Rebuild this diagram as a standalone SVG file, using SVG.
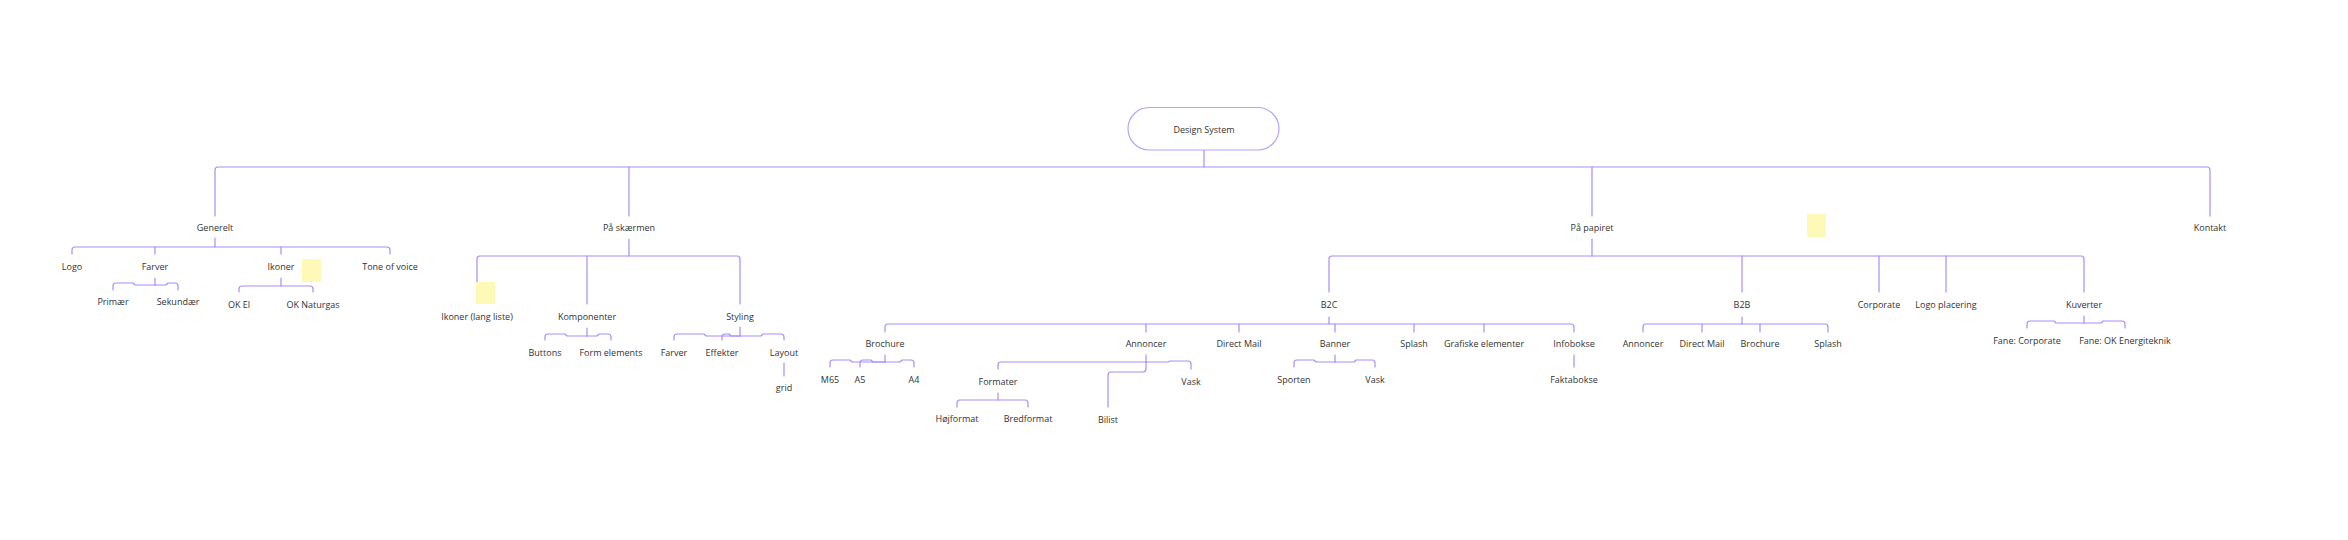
<svg xmlns="http://www.w3.org/2000/svg" width="2348" height="540" viewBox="0 0 2348 540">
<style>
.t{font-family:"Open Sans","Noto Sans","Liberation Sans",sans-serif;font-size:9px;fill:#333;text-anchor:middle}
.c path{fill:none;stroke:#a98df6;stroke-width:1.2;stroke-linecap:round;stroke-linejoin:round}
.pill{fill:#fff;stroke:#b8a2f8;stroke-width:1.2}
.sticky{fill:#fff9b8}
</style>
<rect width="2348" height="540" fill="#fff"/>
<g class="c" id="connectors">
<path d="M1204,150 V167"/>
<path d="M215,216 V170 Q215,167 218,167 H2207 Q2210,167 2210,170 V216"/>
<path d="M629,167 V216"/>
<path d="M1592,167 V216"/>
<path d="M215,238 V247"/>
<path d="M72,254 V250 Q72,247 75,247 H387 Q390,247 390,250 V254"/>
<path d="M155,247 V254"/>
<path d="M281,247 V254"/>
<path d="M155,278 V285"/>
<path d="M155,285 H135 L133,283 H116 Q113,283 113,286 V290"/>
<path d="M155,285 H166 L168,283 H175 Q178,283 178,286 V290"/>
<path d="M281,278 V286"/>
<path d="M239,292 V289 Q239,286 242,286 H310 Q313,286 313,289 V292"/>
<path d="M629,239 V256"/>
<path d="M477,282 V259 Q477,256 480,256 H737 Q740,256 740,259 V304"/>
<path d="M587,256 V304"/>
<path d="M587,328 V336"/>
<path d="M587,336 H567 L565,334 H548 Q545,334 545,337 V340"/>
<path d="M587,336 H597 L599,334 H608 Q611,334 611,337 V340"/>
<path d="M740,327 V336"/>
<path d="M740,336 H706 L704,334 H677 Q674,334 674,337 V340"/>
<path d="M740,336 H731 L729,334 H725 Q722,334 722,337 V340"/>
<path d="M740,336 H761 L763,334 H781 Q784,334 784,337 V340"/>
<path d="M784,363 V376"/>
<path d="M1592,239 V256"/>
<path d="M1329,292 V259 Q1329,256 1332,256 H2081 Q2084,256 2084,259 V292"/>
<path d="M1742,256 V292"/>
<path d="M1879,256 V292"/>
<path d="M1946,256 V292"/>
<path d="M1329,317 V324"/>
<path d="M885,332 V327 Q885,324 888,324 H1571 Q1574,324 1574,327 V332"/>
<path d="M1146,324 V332"/>
<path d="M1239,324 V332"/>
<path d="M1335,324 V332"/>
<path d="M1414,324 V332"/>
<path d="M1484,324 V332"/>
<path d="M885,355 V362"/>
<path d="M885,362 H852 L850,360 H833 Q830,360 830,363 V367"/>
<path d="M885,362 H873 L871,360 H863 Q860,360 860,363 V367"/>
<path d="M885,362 H900 L902,360 H911 Q914,360 914,363 V367"/>
<path d="M1146,355 V362"/>
<path d="M998,369 V365 Q998,362 1001,362 H1146"/>
<path d="M1146,362 H1168 L1170,361 H1188 Q1191,361 1191,364 V369"/>
<path d="M1146,362 V369 Q1146,372 1143,372 H1111 Q1108,372 1108,375 V407"/>
<path d="M998,393 V400"/>
<path d="M957,407 V403 Q957,400 960,400 H1025 Q1028,400 1028,403 V407"/>
<path d="M1335,355 V362"/>
<path d="M1335,362 H1316 L1314,360 H1297 Q1294,360 1294,363 V367"/>
<path d="M1335,362 H1354 L1356,360 H1372 Q1375,360 1375,363 V367"/>
<path d="M1574,355 V367"/>
<path d="M1742,317 V324"/>
<path d="M1643,332 V327 Q1643,324 1646,324 H1825 Q1828,324 1828,327 V332"/>
<path d="M1702,324 V332"/>
<path d="M1760,324 V332"/>
<path d="M2084,316 V323"/>
<path d="M2084,323 H2056 L2054,321 H2030 Q2027,321 2027,324 V328"/>
<path d="M2084,323 H2101 L2103,321 H2122 Q2125,321 2125,324 V328"/>
</g>
<g id="stickies">
<rect id="sticky-1" class="sticky" x="302" y="259" width="19" height="23"/>
<rect id="sticky-2" class="sticky" x="476" y="282" width="19" height="22"/>
<rect id="sticky-3" class="sticky" x="1807" y="214" width="19" height="23"/>
</g>
<g id="n-design-system"><rect class="pill" x="1128" y="107.5" width="151" height="42.5" rx="21.25"/><text class="t" x="1204" y="133.2">Design System</text></g>
<g id="n-generelt"><text class="t" x="215" y="231.2">Generelt</text></g>
<g id="n-pa-skaermen"><text class="t" x="629" y="231.2">På skærmen</text></g>
<g id="n-pa-papiret"><text class="t" x="1592" y="231.2">På papiret</text></g>
<g id="n-kontakt"><text class="t" x="2210" y="231.2">Kontakt</text></g>
<g id="n-logo"><text class="t" x="72" y="270.2">Logo</text></g>
<g id="n-farver"><text class="t" x="155" y="270.2">Farver</text></g>
<g id="n-ikoner"><text class="t" x="281" y="270.2">Ikoner</text></g>
<g id="n-tone"><text class="t" x="390" y="270.2">Tone of voice</text></g>
<g id="n-primaer"><text class="t" x="113" y="305.2">Primær</text></g>
<g id="n-sekundaer"><text class="t" x="178" y="305.2">Sekundær</text></g>
<g id="n-ok-el"><text class="t" x="239" y="308.2">OK El</text></g>
<g id="n-ok-naturgas"><text class="t" x="313" y="308.2">OK Naturgas</text></g>
<g id="n-ikoner-lang"><text class="t" x="477" y="320.2">Ikoner (lang liste)</text></g>
<g id="n-komponenter"><text class="t" x="587" y="320.2">Komponenter</text></g>
<g id="n-styling"><text class="t" x="740" y="320.2">Styling</text></g>
<g id="n-buttons"><text class="t" x="545" y="356.2">Buttons</text></g>
<g id="n-form"><text class="t" x="611" y="356.2">Form elements</text></g>
<g id="n-farver2"><text class="t" x="674" y="356.2">Farver</text></g>
<g id="n-effekter"><text class="t" x="722" y="356.2">Effekter</text></g>
<g id="n-layout"><text class="t" x="784" y="356.2">Layout</text></g>
<g id="n-grid"><text class="t" x="784" y="391.2">grid</text></g>
<g id="n-b2c"><text class="t" x="1329" y="308.2">B2C</text></g>
<g id="n-b2b"><text class="t" x="1742" y="308.2">B2B</text></g>
<g id="n-corporate"><text class="t" x="1879" y="308.2">Corporate</text></g>
<g id="n-logo-placering"><text class="t" x="1946" y="308.2">Logo placering</text></g>
<g id="n-kuverter"><text class="t" x="2084" y="308.2">Kuverter</text></g>
<g id="n-brochure"><text class="t" x="885" y="347.2">Brochure</text></g>
<g id="n-annoncer"><text class="t" x="1146" y="347.2">Annoncer</text></g>
<g id="n-direct-mail"><text class="t" x="1239" y="347.2">Direct Mail</text></g>
<g id="n-banner"><text class="t" x="1335" y="347.2">Banner</text></g>
<g id="n-splash"><text class="t" x="1414" y="347.2">Splash</text></g>
<g id="n-grafiske"><text class="t" x="1484" y="347.2">Grafiske elementer</text></g>
<g id="n-infobokse"><text class="t" x="1574" y="347.2">Infobokse</text></g>
<g id="n-b2b-annoncer"><text class="t" x="1643" y="347.2">Annoncer</text></g>
<g id="n-b2b-direct"><text class="t" x="1702" y="347.2">Direct Mail</text></g>
<g id="n-b2b-brochure"><text class="t" x="1760" y="347.2">Brochure</text></g>
<g id="n-b2b-splash"><text class="t" x="1828" y="347.2">Splash</text></g>
<g id="n-fane-corp"><text class="t" x="2027" y="344.2">Fane: Corporate</text></g>
<g id="n-fane-ok"><text class="t" x="2125" y="344.2">Fane: OK Energiteknik</text></g>
<g id="n-m65"><text class="t" x="830" y="383.2">M65</text></g>
<g id="n-a5"><text class="t" x="860" y="383.2">A5</text></g>
<g id="n-a4"><text class="t" x="914" y="383.2">A4</text></g>
<g id="n-formater"><text class="t" x="998" y="385.2">Formater</text></g>
<g id="n-vask1"><text class="t" x="1191" y="385.2">Vask</text></g>
<g id="n-bilist"><text class="t" x="1108" y="423.2">Bilist</text></g>
<g id="n-hojformat"><text class="t" x="957" y="422.2">Højformat</text></g>
<g id="n-bredformat"><text class="t" x="1028" y="422.2">Bredformat</text></g>
<g id="n-sporten"><text class="t" x="1294" y="383.2">Sporten</text></g>
<g id="n-vask2"><text class="t" x="1375" y="383.2">Vask</text></g>
<g id="n-faktabokse"><text class="t" x="1574" y="383.2">Faktabokse</text></g>
</svg>
